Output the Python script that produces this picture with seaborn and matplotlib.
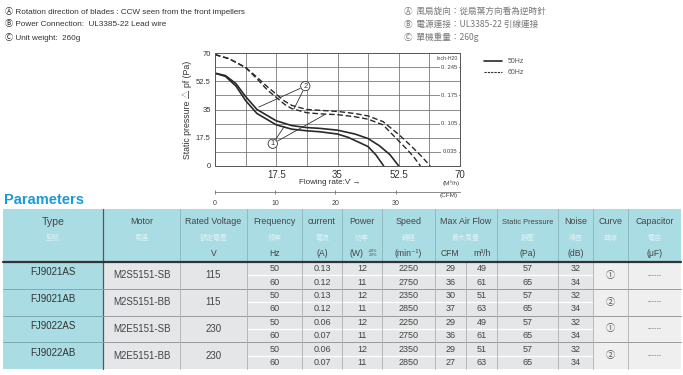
import matplotlib
matplotlib.use("Agg")
import matplotlib.pyplot as plt
from matplotlib.patches import Rectangle
from matplotlib.lines import Line2D
import seaborn as sns

# ---------------- data ----------------
flow_c1_50 = [0, 3, 6, 8.75, 12, 17.5, 22, 26.25, 30, 35, 38, 41, 43.75, 46, 48.2]
pres_c1_50 = [57.5, 55.5, 49.5, 40.5, 32.5, 25.5, 22.8, 21.8, 21.2, 19.8, 17.8, 14.8, 12, 6.8, 0]
flow_c2_50 = [0, 3, 6, 8.75, 12, 17.5, 22, 26.25, 30, 35, 40, 43.75, 47, 50, 52.5]
pres_c2_50 = [57.5, 56, 51, 43, 35, 28, 25, 23.8, 23.3, 22.2, 19.8, 17, 12.5, 7, 0]
flow_c1_60 = [0, 4, 8.75, 12, 15, 17.5, 20, 22, 26.25, 30, 35, 40, 43.75, 48, 52.5, 55, 57, 58.7]
pres_c1_60 = [69, 66.5, 61, 54, 47, 42.5, 38, 35.5, 33, 32.3, 31.8, 30.5, 29, 25.5, 15.5, 10, 5, 0]
flow_c2_60 = [0, 4, 8.75, 12, 15, 17.5, 20, 22, 26.25, 30, 35, 40, 43.75, 48, 52.5, 56, 59, 61.5]
pres_c2_60 = [69, 66.5, 61, 55, 49, 44.5, 40, 37.5, 35, 34.5, 33.8, 32.5, 31, 27.5, 19.5, 12.5, 6, 0]

pa_ticks = [0, 17.5, 35, 52.5, 70]
flow_ticks = [17.5, 35, 52.5, 70]
cfm_ticks = [0, 10, 20, 30]
inch_vals = ["0. 245", "0. 175", "0. 105", "0.035"]
inch_pos = [61.25, 43.75, 26.25, 8.75]

notes_en = ["\u24b6 Rotation direction of blades : CCW seen from the front impellers",
            "\u24b7 Power Connection:  UL3385-22 Lead wire",
            "\u24b8 Unit weight:  260g"]
notes_zh = ["\u24b6  風扇旋向：從扇葉方向看為逆時針",
            "\u24b7  電源連接：UL3385-22 引線連接",
            "\u24b8  單機重量：260g"]

types = ["FJ9021AS", "FJ9021AB", "FJ9022AS", "FJ9022AB"]
motors = ["M2S5151-SB", "M2S5151-BB", "M2E5151-SB", "M2E5151-BB"]
voltages = ["115", "115", "230", "230"]
freqs = ["50", "60"] * 4
currents = ["0.13", "0.12", "0.13", "0.12", "0.06", "0.07", "0.06", "0.07"]
powers = ["12", "11"] * 4
speeds = ["2250", "2750", "2350", "2850", "2250", "2750", "2350", "2850"]
cfms = ["29", "36", "30", "37", "29", "36", "29", "27"]
m3hs = ["49", "61", "51", "63", "49", "61", "51", "63"]
pressures = ["57", "65"] * 4
noises = ["32", "34"] * 4
curves = ["\u2460", "\u2461", "\u2460", "\u2461"]
caps = ["------"] * 4

head_en = ["Type", "Motor", "Rated Voltage", "Frequency", "current", "Power", "Speed",
           "Max Air Flow", "Static Pressure", "Noise", "Curve", "Capacitor"]
head_zh = ["型號", "馬達", "額定電壓", "頻率", "電流", "功率", "轉速", "最大風量", "靜壓", "噪音", "曲線", "電容"]
head_unit = ["", "", "V", "Hz", "(A)", "(W)", "(min\u207b\u00b9)", "", "(Pa)", "(dB)", "", "(\u03bcF)"]

# ---------------- style ----------------
sns.set_style("white")
SANS = ["Liberation Sans", "Noto Sans CJK TC", "DejaVu Sans"]
CJK = ["Noto Sans CJK TC", "DejaVu Sans"]
plt.rcParams["font.family"] = SANS

W, H = 683, 375
fig = plt.figure(figsize=(W / 100, H / 100), dpi=100)
bg = fig.add_axes([0, 0, 1, 1])
bg.set_xlim(0, W)
bg.set_ylim(H, 0)
bg.axis("off")

# top notes
for i, t in enumerate(notes_en):
    bg.text(5, 11 + 13 * i, t, fontsize=5.9, family=SANS, color="#333333", va="center")
for i, t in enumerate(notes_zh):
    bg.text(404, 11 + 13 * i, t, fontsize=6.2, family=CJK, color="#777777", va="center")

# ---------------- chart ----------------
ax = fig.add_axes([215 / W, (H - 166) / H, 245 / W, 113 / H])
lc = "#2a2a2a"
sns.lineplot(x=flow_c2_50, y=pres_c2_50, ax=ax, color=lc, lw=1.2, errorbar=None)
sns.lineplot(x=flow_c1_50, y=pres_c1_50, ax=ax, color=lc, lw=1.2, errorbar=None)
sns.lineplot(x=flow_c2_60, y=pres_c2_60, ax=ax, color=lc, lw=1.0, linestyle=(0, (4, 2)), errorbar=None)
sns.lineplot(x=flow_c1_60, y=pres_c1_60, ax=ax, color=lc, lw=1.0, linestyle=(0, (4, 2)), errorbar=None)

ax.set_xlim(0, 70)
ax.set_ylim(0, 70)
grid = [8.75 * k for k in range(1, 8)]
for g in grid:
    ax.axvline(g, color="#6d6d6d", lw=0.55, zorder=0)
    ax.axhline(g, color="#6d6d6d", lw=0.55, zorder=0)
for s in ax.spines.values():
    s.set_color("#555555")
    s.set_linewidth(0.7)
ax.set_yticks(pa_ticks)
ax.set_yticklabels([f"{v:g}" for v in pa_ticks], fontsize=5.5, color="#333333")
ax.set_xticks(flow_ticks)
ax.set_xticklabels([f"{v:g}" for v in flow_ticks], fontsize=7, color="#333333")
ax.tick_params(length=0, pad=3)
ax.set_ylabel("Static pressure \u25b3 pf (Pa)", fontsize=6.3, color="#333333", labelpad=3)
ax.set_xlabel("")

# inch-H2O scale
ax.text(69.3, 66.3, "Inch-H20", fontsize=3.8, ha="right", va="center", color="#444444")
for v, t in zip(inch_pos, inch_vals):
    ax.text(69.3, v, t, fontsize=4.2, ha="right", va="center", color="#444444",
            bbox=dict(boxstyle="square,pad=0.25", fc="white", ec="none"))

# curve labels
ann = dict(arrowstyle="-", color="#333333", lw=0.6, shrinkA=4, shrinkB=0)
for pt in [(12.5, 36.5), (22.6, 35.5)]:
    ax.annotate("", xy=pt, xytext=(25.8, 49.5), arrowprops=ann)
for pt in [(19.8, 24.5), (31.5, 32.0)]:
    ax.annotate("", xy=pt, xytext=(16.5, 13.8), arrowprops=ann)
ax.text(25.8, 49.5, "2", fontsize=5.5, ha="center", va="center", color="#333333",
        bbox=dict(boxstyle="circle,pad=0.15", fc="white", ec="#333333", lw=0.6))
ax.text(16.5, 13.8, "1", fontsize=5.5, ha="center", va="center", color="#333333",
        bbox=dict(boxstyle="circle,pad=0.15", fc="white", ec="#333333", lw=0.6))

# CFM secondary axis
sec = ax.secondary_xaxis(-0.23, functions=(lambda x: x / 1.72, lambda x: x * 1.72))
sec.set_xticks(cfm_ticks)
sec.set_xticklabels([str(v) for v in cfm_ticks], fontsize=5, color="#444444")
sec.tick_params(direction="inout", length=3, width=0.5, color="#555555", pad=4)
sec.spines["bottom"].set_color("#777777")
sec.spines["bottom"].set_linewidth(0.6)

# legend
handles = [Line2D([], [], color=lc, lw=1.2, label="50Hz"),
           Line2D([], [], color=lc, lw=0.8, linestyle=(0, (2, 1)), label="60Hz")]
fig.legend(handles=handles, loc="upper left", bbox_to_anchor=(478 / W, 1 - 52 / H),
           frameon=False, fontsize=5, handlelength=2.6, labelspacing=0.6, labelcolor="#555555")

bg.text(330, 183, "Flowing rate:V\u0307 \u2192", fontsize=5.8, ha="center", va="center", color="#333333")
bg.text(451, 183, "(M\u00b3/h)", fontsize=4.6, ha="center", va="center", color="#444444")
bg.text(449, 196, "(CFM)", fontsize=4.6, ha="center", va="center", color="#444444")

# ---------------- Parameters table ----------------
bg.text(4, 200, "Parameters", fontsize=10.5, fontweight="bold", color="#1a9ad6", va="center")

edges = [3, 103, 180, 247, 302, 342, 382, 435, 497, 558, 593, 628, 681]
flow_mid = 466
top, hbot = 209, 262
rh = 13.4
teal = "#aadce3"
gray = "#e5e6e7"
light = "#efefef"
txt = "#444444"

bg.add_patch(Rectangle((edges[0], top), edges[-1] - edges[0], hbot - top, fc=teal, ec="none"))
bg.add_patch(Rectangle((edges[0], hbot), edges[1] - edges[0], 8 * rh, fc=teal, ec="none"))
bg.add_patch(Rectangle((edges[1], hbot), edges[10] - edges[1], 8 * rh, fc=gray, ec="none"))
bg.add_patch(Rectangle((edges[10], hbot), edges[-1] - edges[10], 8 * rh, fc=light, ec="none"))

# header text
for i, (e, z, u) in enumerate(zip(head_en, head_zh, head_unit)):
    cx = (edges[i] + edges[i + 1]) / 2
    fs = 7.6 if i == 0 else (5.4 if i == 8 else 6.4)
    bg.text(cx, 222, e, fontsize=fs, family=SANS, ha="center", va="center", color=txt)
    bg.text(cx, 238, z, fontsize=5, family=CJK, ha="center", va="center", color="#dcf1f4")
    if u:
        bg.text(cx - (5 if i == 5 else 0), 253, u, fontsize=6.2, family=SANS,
                ha="center", va="center", color=txt)
bg.text(373, 253, "+10%\n-20%", fontsize=2.6, family=SANS, ha="center", va="center",
        color=txt, linespacing=1.0)
bg.text(450, 253, "CFM", fontsize=6.2, family=SANS, ha="center", va="center", color=txt)
bg.text(482, 253, "m\u00b3/h", fontsize=6.2, family=SANS, ha="center", va="center", color=txt)

# header vertical separators
for x in edges[1:-1]:
    bg.plot([x, x], [top, hbot], color="#8fb9c0", lw=0.7)
bg.plot([edges[1]] * 2, [top, hbot + 8 * rh], color="#555555", lw=0.9)

# body lines
for k in range(1, 8):
    y = hbot + k * rh
    if k % 2 == 0:
        bg.plot([edges[1], edges[-1]], [y, y], color="#9a9a9a", lw=0.7)
        bg.plot([edges[0], edges[1]], [y, y], color="#7fa9b0", lw=0.7)
    else:
        bg.plot([edges[3], edges[10]], [y, y], color="white", lw=1.0)
for x in edges[2:-1] + [flow_mid]:
    bg.plot([x, x], [hbot, hbot + 8 * rh], color="#b0b0b0", lw=0.6)
bg.plot([edges[0], edges[-1]], [hbot, hbot], color="#333333", lw=1.6)

# body text
for g in range(4):
    cy = hbot + (2 * g + 1) * rh
    bg.text((edges[0] + edges[1]) / 2, cy - 3, types[g], fontsize=7, family=SANS,
            ha="center", va="center", color="#333333")
    bg.text((edges[1] + edges[2]) / 2, cy, motors[g], fontsize=7, family=SANS,
            ha="center", va="center", color=txt)
    bg.text((edges[2] + edges[3]) / 2, cy, voltages[g], fontsize=7, family=SANS,
            ha="center", va="center", color=txt)
    bg.text((edges[10] + edges[11]) / 2, cy, curves[g], fontsize=6.5, family=SANS,
            ha="center", va="center", color="#555555")
    bg.text((edges[11] + edges[12]) / 2, cy, caps[g], fontsize=5, family=SANS,
            ha="center", va="center", color="#777777")
for r in range(8):
    cy = hbot + (r + 0.5) * rh
    vals = [freqs[r], currents[r], powers[r], speeds[r]]
    for j, v in enumerate(vals):
        cx = (edges[3 + j] + edges[4 + j]) / 2
        bg.text(cx, cy, v, fontsize=6.5, family=SANS, ha="center", va="center", color=txt)
    bg.text((edges[7] + flow_mid) / 2, cy, cfms[r], fontsize=6.5, family=SANS,
            ha="center", va="center", color=txt)
    bg.text((flow_mid + edges[8]) / 2, cy, m3hs[r], fontsize=6.5, family=SANS,
            ha="center", va="center", color=txt)
    bg.text((edges[8] + edges[9]) / 2, cy, pressures[r], fontsize=6.5, family=SANS,
            ha="center", va="center", color=txt)
    bg.text((edges[9] + edges[10]) / 2, cy, noises[r], fontsize=6.5, family=SANS,
            ha="center", va="center", color=txt)

fig.savefig("out.png", dpi=100)
